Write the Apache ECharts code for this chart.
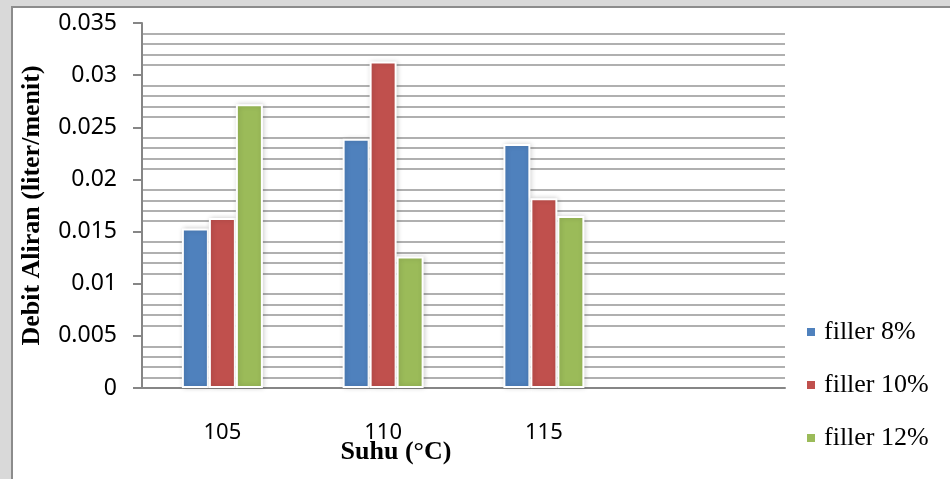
<!DOCTYPE html>
<html>
<head>
<meta charset="utf-8">
<script src="https://cdn.jsdelivr.net/npm/echarts@6/dist/echarts.min.js"></script>
<style>
  html, body { margin: 0; padding: 0; background: #d9d9d9; }
  #chart { width: 950px; height: 479px; }
</style>
</head>
<body>
<div id="chart"></div>
<script>
// Flow rate per temperature and filler content
const categories = ['105', '110', '115', ''];
const filler8 = [0.0153, 0.0239, 0.0234, null];
const filler10 = [0.0163, 0.0313, 0.0182, null];
const filler12 = [0.0272, 0.0126, 0.0165, null];
const seriesNames = ['filler 8%', 'filler 10%', 'filler 12%'];
const seriesColors = ['#4F81BD', '#C0504D', '#9BBB59'];
const yTicks = { min: 0, max: 0.035, interval: 0.005 };

const chart = echarts.init(document.getElementById('chart'), null, { renderer: 'canvas' });

function barSeries(name, data, color) {
  return {
    name: name,
    type: 'bar',
    data: data,
    barWidth: 27,
    barGap: '0%',
    itemStyle: {
      color: color,
      borderColor: '#ffffff',
      borderWidth: 2,
      shadowBlur: 5,
      shadowColor: 'rgba(0,0,0,0.18)',
      shadowOffsetX: 1,
      shadowOffsetY: 0
    }
  };
}

chart.setOption({
  backgroundColor: 'transparent',
  animation: false,
  color: seriesColors,
  graphic: [
    {
      type: 'rect',
      z: -10,
      shape: { x: 12, y: 7, width: 1000, height: 1000 },
      style: { fill: '#ffffff', stroke: '#8c8c8c', lineWidth: 2 }
    },
    {
      type: 'text',
      x: 396, y: 452,
      style: {
        text: 'Suhu (°C)',
        font: 'bold 26px "Liberation Serif"',
        fill: '#000000',
        align: 'center',
        verticalAlign: 'middle'
      }
    }
  ],
  grid: { left: 142, right: 165, top: 23, bottom: 91, containLabel: false },
  legend: {
    orient: 'vertical',
    left: 805,
    top: 319,
    padding: 0,
    icon: 'rect',
    itemWidth: 10,
    itemHeight: 10,
    itemGap: 27,
    data: seriesNames,
    textStyle: {
      fontFamily: 'Liberation Serif',
      fontSize: 26,
      color: '#000000',
      lineHeight: 26,
      padding: [0, 0, 0, 3]
    }
  },
  xAxis: {
    type: 'category',
    data: categories,
    axisLine: { show: true, lineStyle: { color: '#868686', width: 2 } },
    axisTick: { show: false },
    axisLabel: {
      fontFamily: 'Noto Sans',
      fontSize: 22,
      color: '#000000',
      margin: 34
    },
    splitLine: { show: false }
  },
  yAxis: {
    type: 'value',
    min: yTicks.min,
    max: yTicks.max,
    interval: yTicks.interval,
    name: 'Debit Aliran (liter/menit)',
    nameLocation: 'middle',
    nameGap: 97,
    nameRotate: 90,
    nameTextStyle: {
      fontFamily: 'Liberation Serif',
      fontWeight: 'bold',
      fontSize: 26,
      color: '#000000'
    },
    axisLine: { show: true, lineStyle: { color: '#868686', width: 2 } },
    axisTick: { show: true, inside: false, length: 9, lineStyle: { color: '#868686', width: 2 } },
    axisLabel: {
      fontFamily: 'Noto Sans',
      fontSize: 23,
      color: '#000000',
      margin: 25,
      formatter: function (v) { return String(+v.toFixed(3)); }
    },
    splitLine: { show: false },
    minorTick: { show: false, splitNumber: 5 },
    minorSplitLine: { show: true, lineStyle: { color: '#b0b0b0', width: 2 } }
  },
  series: [
    barSeries(seriesNames[0], filler8, seriesColors[0]),
    barSeries(seriesNames[1], filler10, seriesColors[1]),
    barSeries(seriesNames[2], filler12, seriesColors[2])
  ]
});
</script>
</body>
</html>
